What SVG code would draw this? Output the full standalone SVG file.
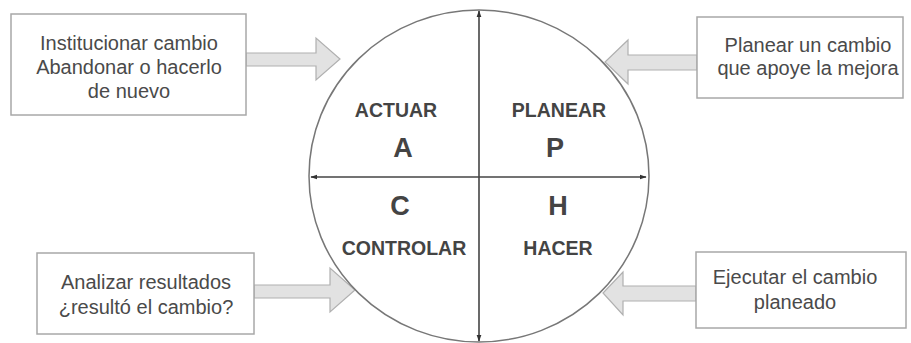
<svg xmlns="http://www.w3.org/2000/svg" width="911" height="343" viewBox="0 0 911 343">
<defs>
<style>
.box{fill:#fff;stroke:#a8a8a8;stroke-width:1.5}
.bt{font-family:"Liberation Sans",Arial,sans-serif;font-size:20px;fill:#4a4a4a;text-anchor:middle}
.q{font-family:"Liberation Sans",Arial,sans-serif;font-size:19.5px;font-weight:bold;fill:#444;text-anchor:middle}
.l{font-family:"Liberation Sans",Arial,sans-serif;font-size:27px;font-weight:bold;fill:#444;text-anchor:middle}
.arr{fill:#e2e2e2;stroke:#b0b0b0;stroke-width:1.2}
.ax{stroke:#444;stroke-width:1.6;fill:none}
</style>
<marker id="ah" viewBox="0 0 10 10" refX="9" refY="5" markerWidth="7" markerHeight="7" orient="auto-start-reverse" markerUnits="userSpaceOnUse">
<path d="M0,1.5 L10,5 L0,8.5 Z" fill="#333"/>
</marker>
</defs>
<rect width="911" height="343" fill="#fff"/>
<g id="connectors">
<path class="arr" d="M246,53 L316,53 L316,38 L340,59 L316,80 L316,66 L246,66 Z"/>
<path class="arr" d="M697,55 L628,55 L628,40 L605,62 L628,84 L628,70 L697,70 Z"/>
<path class="arr" d="M254,285 L330,285 L330,268 L355,290 L330,312 L330,298 L254,298 Z"/>
<path class="arr" d="M696,286 L623,286 L623,272 L603,293 L623,315 L623,301 L696,301 Z"/>
</g>
<g id="cycle">
<ellipse cx="479" cy="176" rx="170" ry="166" fill="#fff" stroke="#777" stroke-width="1.5"/>
<line class="ax" x1="479" y1="177" x2="479" y2="11" marker-end="url(#ah)"/>
<line class="ax" x1="479" y1="177" x2="479" y2="341" marker-end="url(#ah)"/>
<line class="ax" x1="479" y1="177" x2="311" y2="177" marker-end="url(#ah)"/>
<line class="ax" x1="479" y1="177" x2="646" y2="177" marker-end="url(#ah)"/>
<text class="q" x="396" y="117">ACTUAR</text>
<text class="l" x="403" y="157">A</text>
<text class="q" x="559" y="117">PLANEAR</text>
<text class="l" x="555" y="157">P</text>
<text class="l" x="400" y="215">C</text>
<text class="l" x="558" y="215">H</text>
<text class="q" x="404" y="255">CONTROLAR</text>
<text class="q" x="558" y="255">HACER</text>
</g>
<g id="box-actuar">
<rect class="box" x="11" y="14" width="235" height="101"/>
<text class="bt" x="129" y="50">Institucionar cambio</text>
<text class="bt" x="129" y="74">Abandonar o hacerlo</text>
<text class="bt" x="129" y="98">de nuevo</text>
</g>
<g id="box-planear">
<rect class="box" x="697" y="17" width="206" height="81"/>
<text class="bt" x="808" y="52">Planear un cambio</text>
<text class="bt" x="808" y="75">que apoye la mejora</text>
</g>
<g id="box-controlar">
<rect class="box" x="37" y="253" width="217" height="81"/>
<text class="bt" x="146" y="289">Analizar resultados</text>
<text class="bt" x="146" y="314">¿resultó el cambio?</text>
</g>
<g id="box-hacer">
<rect class="box" x="696" y="252" width="210" height="76"/>
<text class="bt" x="795" y="284">Ejecutar el cambio</text>
<text class="bt" x="795" y="309">planeado</text>
</g>
</svg>
